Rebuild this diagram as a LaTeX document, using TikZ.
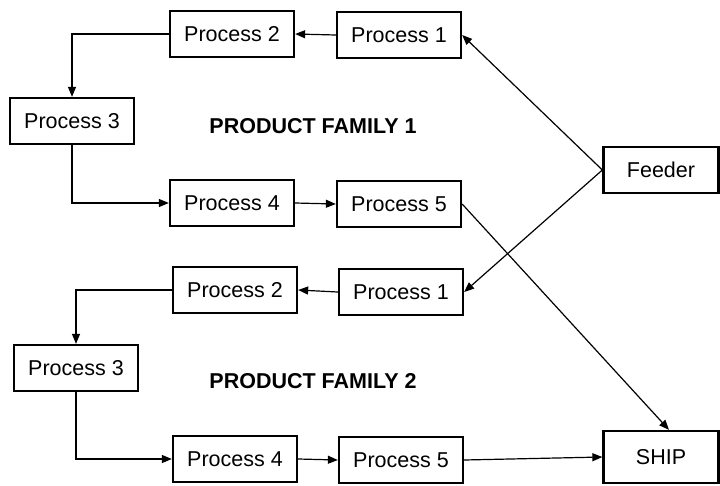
\documentclass[tikz,border=0pt]{standalone}
\usepackage{fontspec}
\setmainfont{Liberation Sans}
\usetikzlibrary{arrows.meta}
\begin{document}
\begin{tikzpicture}[x=1pt,y=-1pt,
  procbox/.style={draw, line width=2.3pt, minimum width=124pt, minimum height=46pt,
    inner sep=0pt, font=\fontsize{21.5}{24}\selectfont},
  endbox/.style={procbox, minimum width=115pt},
  famlabel/.style={font=\bfseries\fontsize{21.5}{24}\selectfont},
  flow/.style={line width=1.2pt, -{Triangle[length=10pt,width=8pt]}}]
\useasboundingbox (0,0) rectangle (720,485);

% product family 1
\node[procbox] (a2) at (232,34) {Process 2};
\node[procbox] (a1) at (399,35) {Process 1};
\node[procbox] (a3) at (72,121) {Process 3};
\node[procbox] (a4) at (232,203) {Process 4};
\node[procbox] (a5) at (399,204) {Process 5};
\node[famlabel] (f1) at (313,126) {PRODUCT FAMILY 1};

% product family 2
\node[procbox] (b2) at (235,290) {Process 2};
\node[procbox] (b1) at (401,292) {Process 1};
\node[procbox] (b3) at (76,368) {Process 3};
\node[procbox] (b4) at (235,459) {Process 4};
\node[procbox] (b5) at (401,460) {Process 5};
\node[famlabel] (f2) at (313,381) {PRODUCT FAMILY 2};

% shared feeder and shipping
\node[endbox] (feed) at (661,170) {Feeder};
\node[endbox, minimum height=52pt] (ship) at (661,457) {SHIP};
\coordinate (shiptop) at ([xshift=8pt]ship.north);

% family 1 flow
\draw[flow] (a1.west) -- (a2.east);
\draw[flow] (a2.west) -| (a3.north);
\draw[flow] (a3.south) |- (a4.west);
\draw[flow] (a4.east) -- (a5.west);

% family 2 flow
\draw[flow] (b1.west) -- (b2.east);
\draw[flow] (b2.west) -| (b3.north);
\draw[flow] (b3.south) |- (b4.west);
\draw[flow] (b4.east) -- (b5.west);

% feeder and shipping links
\draw[flow] (feed.west) -- (a1.east);
\draw[flow] (feed.west) -- (b1.east);
\draw[flow] (a5.east) -- (shiptop);
\draw[flow] (b5.east) -- (ship.west);
\end{tikzpicture}
\end{document}
